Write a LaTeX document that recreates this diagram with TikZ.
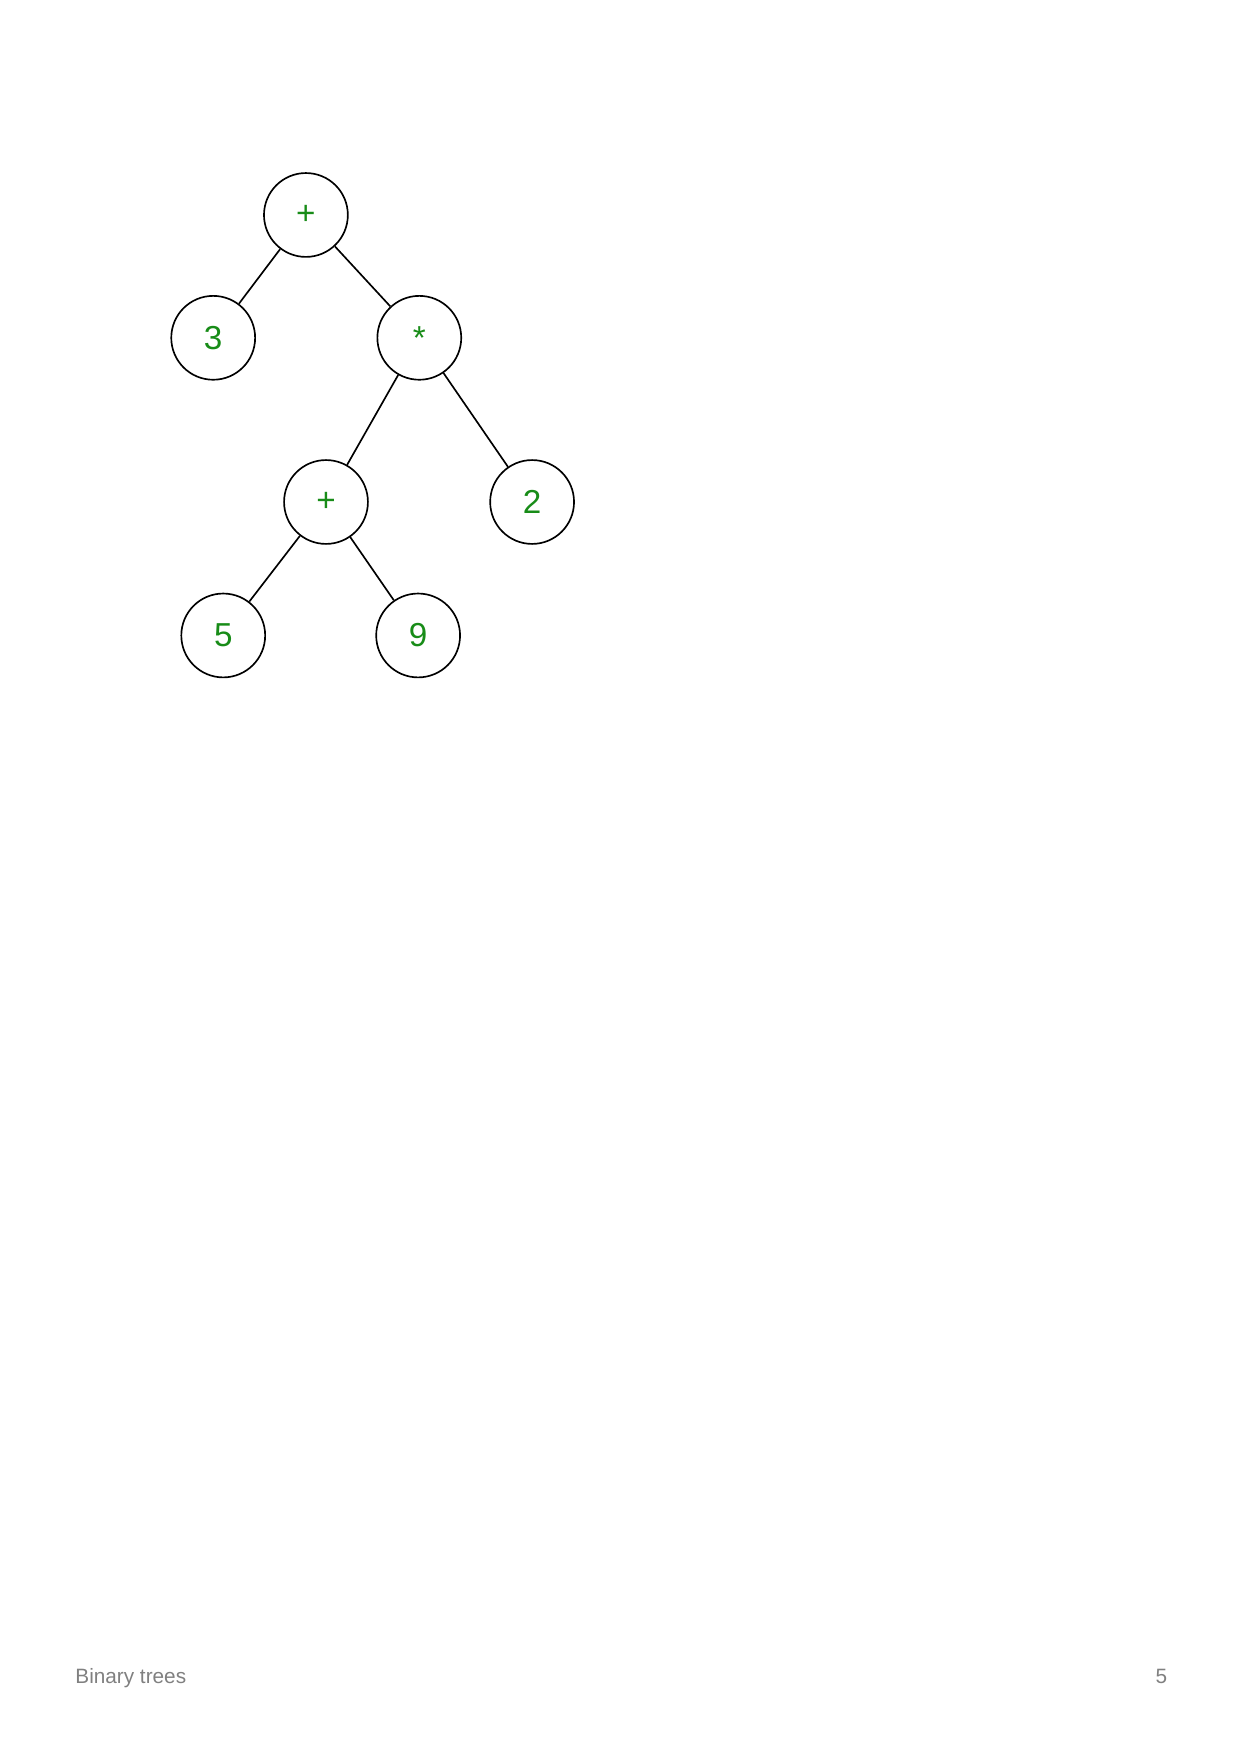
\documentclass[tikz,border=0pt]{standalone}
\usepackage{fontspec}
\setmainfont{Liberation Sans}
\definecolor{leafgreen}{RGB}{24,140,24}
\definecolor{footgray}{RGB}{128,128,128}
\begin{document}
\begin{tikzpicture}[
        treenode/.style={circle, draw, line width=0.8pt, minimum size=1.42cm, inner sep=0pt, text=leafgreen, font=\fontsize{16}{19}\selectfont},
        footer/.style={text=footgray, font=\fontsize{10}{12}\selectfont, inner sep=0pt}]
        \useasboundingbox (0,0) rectangle (21,-29.7);
        \node[treenode] (plus) at (5.18,-3.64) {+};
        \node[treenode] (three) at (3.61,-5.72) {3};
        \node[treenode] (times) at (7.10,-5.72) {*};
        \node[treenode] (plustwo) at (5.52,-8.50) {+};
        \node[treenode] (two) at (9.01,-8.50) {2};
        \node[treenode] (five) at (3.78,-10.76) {5};
        \node[treenode] (nine) at (7.08,-10.76) {9};
        
        \path [-, line width=0.8pt] (plus) edge node {} (three);
        \path [-, line width=0.8pt] (plus) edge node {} (times);
        \path [-, line width=0.8pt] (times) edge node {} (plustwo);
        \path [-, line width=0.8pt] (times) edge node {} (two);
        \path [-, line width=0.8pt] (plustwo) edge node {} (five);
        \path [-, line width=0.8pt] (plustwo) edge node {} (nine);
        
        \node[footer, anchor=base west] (title) at (1.27,-28.50) {Binary trees};
        \node[footer, anchor=base east] (page) at (19.77,-28.50) {5};
\end{tikzpicture}
\end{document}
